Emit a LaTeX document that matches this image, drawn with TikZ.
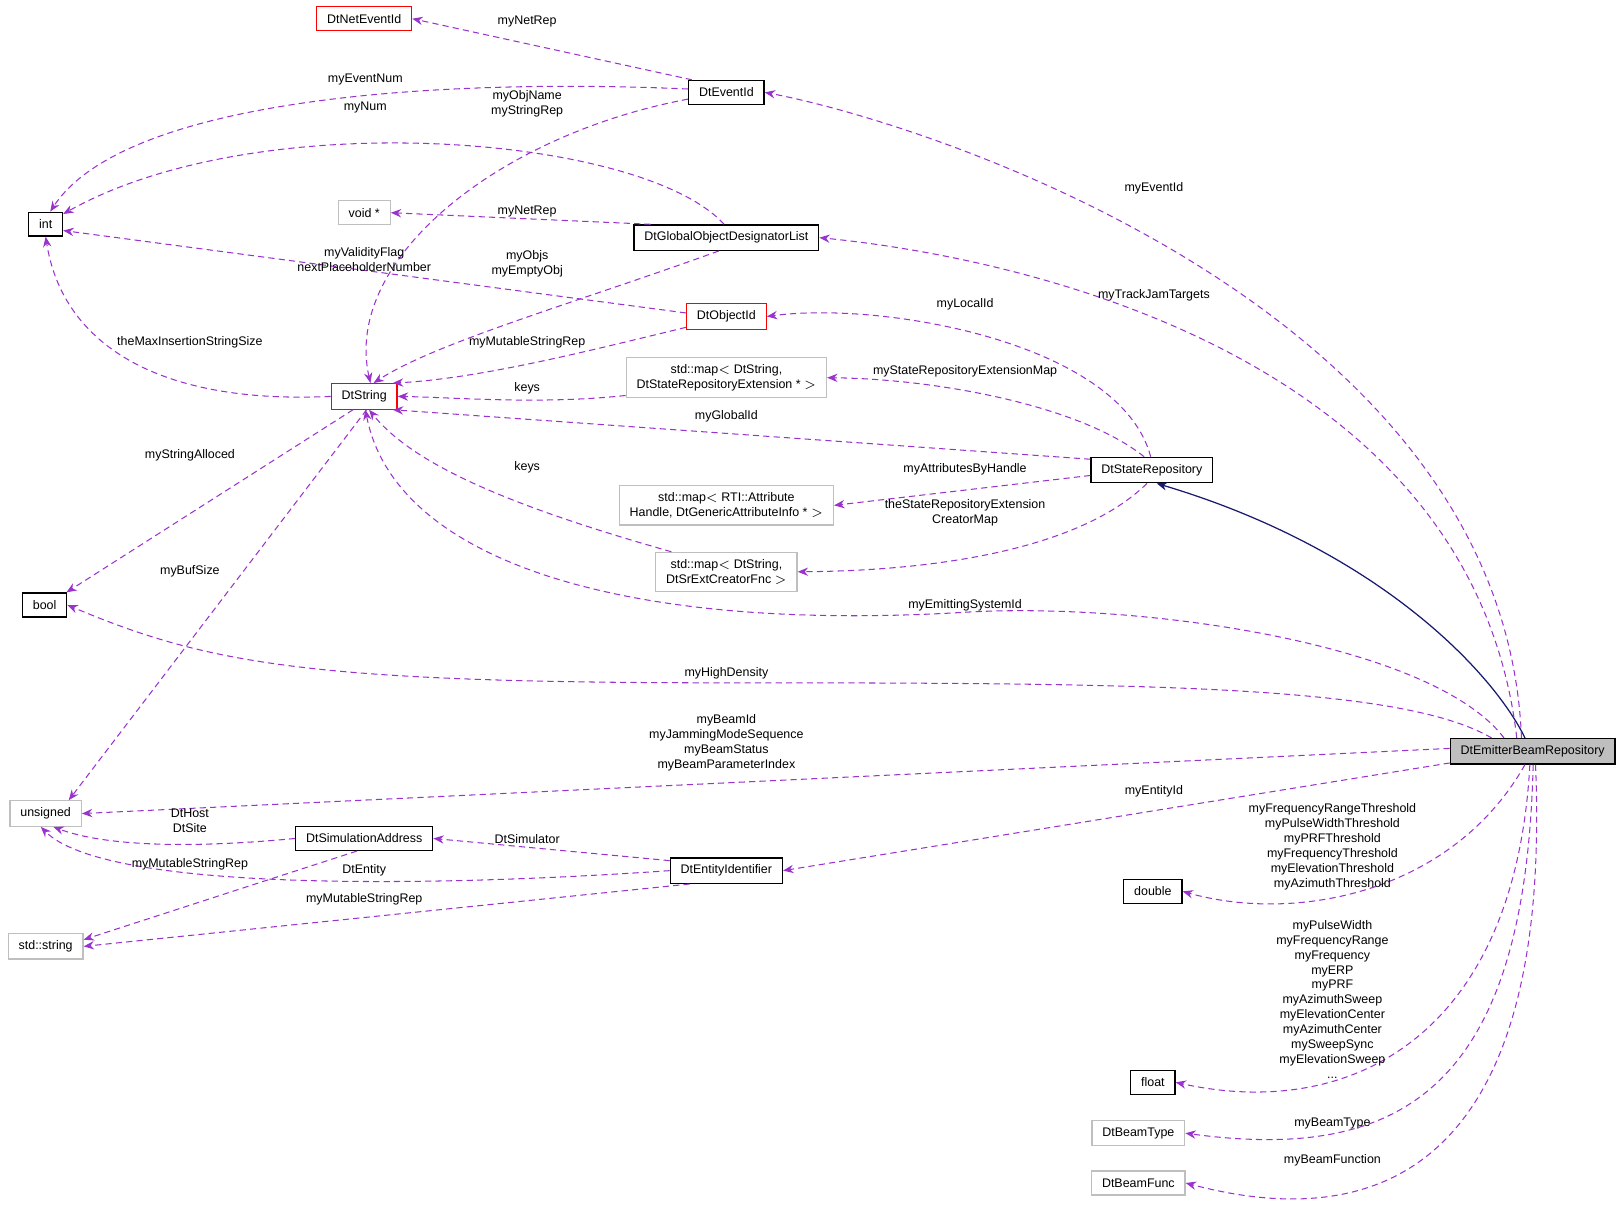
\documentclass[tikz,border=0pt]{standalone}
\usepackage{fontspec}
\setmainfont{Liberation Sans}
\usetikzlibrary{arrows.meta}
\definecolor{edgepurple}{HTML}{9A32CD}
\definecolor{basenavy}{HTML}{191970}
\definecolor{boxgray}{HTML}{BFBFBF}
\begin{document}
\begin{tikzpicture}[
    x=0.5pt, y=-0.5pt,
    font=\fontsize{6}{7.15}\selectfont,
    cls/.style={draw=black, line width=0.6pt, inner xsep=5pt, minimum height=11.5pt, align=center},
    clsred/.style={cls, draw=red},
    clsgray/.style={cls, draw=boxgray},
    clsmain/.style={cls, fill=boxgray!110!black!0, fill={rgb,255:red,191;green,191;blue,191}},
    uses/.style={draw=edgepurple, dash pattern=on 3pt off 2pt, line width=0.5pt, -{Stealth[length=5pt,width=4pt]}},
    inherits/.style={draw=basenavy, line width=0.6pt, -{Stealth[length=5pt,width=4pt]}},
    lbl/.style={align=center, inner sep=0pt}
]
   \useasboundingbox (0,0) rectangle (1565,1167);

   % Classes
   \node[clsred]  (netevent) at (351,18)  {DtNetEventId};
   \node[cls]     (eventid)  at (700,89)  {DtEventId};
   \node[cls]     (int)      at (44,216)  {int};
   \node[clsgray] (voidp)    at (351,205) {void *};
   \node[cls]     (godl)     at (700,229) {DtGlobalObjectDesignatorList};
   \node[clsred]  (objid)    at (700,305) {DtObjectId};
   \node[clsred]  (dtstring) at (351,382) {DtString};
   \node[clsgray] (mapext)   at (700,364) {std::map$<$ DtString,\\ DtStateRepositoryExtension * $>$};
   \node[cls]     (staterep) at (1110,453) {DtStateRepository};
   \node[clsgray] (mapattr)  at (700,487) {std::map$<$ RTI::Attribute\\Handle, DtGenericAttributeInfo * $>$};
   \node[clsgray] (mapcreat) at (700,551) {std::map$<$ DtString,\\ DtSrExtCreatorFnc $>$};
   \node[cls]     (bool)     at (43,583)  {bool};
   \node[clsmain] (emit)     at (1477,724) {DtEmitterBeamRepository};
   \node[clsgray] (unsigned) at (44,784)  {unsigned};
   \node[cls]     (simaddr)  at (351,808) {DtSimulationAddress};
   \node[cls]     (entid)    at (700,839) {DtEntityIdentifier};
   \node[clsgray] (stdstr)   at (44,912)  {std::string};
   \node[cls]     (double)   at (1111,859) {double};
   \node[cls]     (float)    at (1111,1043) {float};
   \node[clsgray] (beamtype) at (1097,1092) {DtBeamType};
   \node[clsgray] (beamfunc) at (1097,1140) {DtBeamFunc};

   % Inheritance
   \draw[inherits] (emit.120) .. controls (1440,650) and (1330,530) .. (staterep.290);

   % Members of DtEventId and DtGlobalObjectDesignatorList
   \draw[uses] (eventid.160) -- (netevent.east);
   \draw[uses] (eventid.175) .. controls (420,75) and (120,95) .. (int.70);
   \draw[uses] (godl.100) .. controls (620,130) and (250,100) .. (int.30);
   \draw[uses] (eventid.190) .. controls (480,130) and (330,250) .. (dtstring.65);
   \draw[uses] (godl.170) -- (voidp.east);
   \draw[uses] (godl.240) .. controls (560,290) and (420,330) .. (dtstring.55);
   \draw[uses] (objid.175) -- (int.340);
   \draw[uses] (objid.195) .. controls (560,340) and (460,365) .. (dtstring.25);
   \draw[uses] (mapext.190) .. controls (520,390) and (440,383) .. (dtstring.east);
   \draw[uses] (dtstring.west) .. controls (150,390) and (60,330) .. (int.south);

   % Members of DtStateRepository
   \draw[uses] (staterep.95) .. controls (1080,330) and (850,290) .. (objid.east);
   \draw[uses] (staterep.120) .. controls (1040,390) and (900,365) .. (mapext.east);
   \draw[uses] (staterep.170) -- (dtstring.335);
   \draw[uses] (staterep.185) -- (mapattr.east);
   \draw[uses] (staterep.250) .. controls (1040,530) and (900,550) .. (mapcreat.east);
   \draw[uses] (mapcreat.160) .. controls (500,490) and (400,450) .. (dtstring.290);

   % Members of DtString
   \draw[uses] (dtstring.230) -- (bool.30);
   \draw[uses] (dtstring.280) -- (unsigned.30);

   % Members of DtEmitterBeamRepository
   \draw[uses] (emit.130) .. controls (1450,300) and (900,120) .. (eventid.east);
   \draw[uses] (emit.140) .. controls (1420,350) and (1000,250) .. (godl.east);
   \draw[uses] (emit.155) .. controls (1380,620) and (1100,580) .. (930,590)
                .. controls (600,610) and (380,540) .. (dtstring.275);
   \draw[uses] (emit.162) .. controls (1350,660) and (1100,658) .. (700,658)
                .. controls (300,658) and (200,640) .. (bool.east);
   \draw[uses] (emit.178) -- (unsigned.east);
   \draw[uses] (emit.188) -- (entid.east);
   \draw[uses] (emit.240) .. controls (1400,860) and (1250,890) .. (double.east);
   \draw[uses] (emit.258) .. controls (1460,1000) and (1300,1080) .. (float.east);
   \draw[uses] (emit.272) .. controls (1470,1050) and (1350,1120) .. (beamtype.east);
   \draw[uses] (emit.282) .. controls (1495,1100) and (1350,1195) .. (beamfunc.east);

   % Members of DtEntityIdentifier and DtSimulationAddress
   \draw[uses] (entid.170) -- (simaddr.east);
   \draw[uses] (simaddr.west) .. controls (180,818) and (100,815) .. (unsigned.300);
   \draw[uses] (entid.west) .. controls (400,856) and (100,858) .. (unsigned.250);
   \draw[uses] (simaddr.240) -- (stdstr.10);
   \draw[uses] (entid.200) -- (stdstr.east);

   % Labels
   \node[lbl] (lnetrep)   at (508,21)  {myNetRep};
   \node[lbl] (levnum)    at (352,77)  {myEventNum};
   \node[lbl] (lnum)      at (352,104) {myNum};
   \node[lbl] (lobjname)  at (508,100) {myObjName\\myStringRep};
   \node[lbl] (lnetrep2)  at (508,204) {myNetRep};
   \node[lbl] (lobjs)     at (508,254) {myObjs\\myEmptyObj};
   \node[lbl] (lvalid)    at (351,250) {myValidityFlag\\nextPlaceholderNumber};
   \node[lbl] (lmutable)  at (508,330) {myMutableStringRep};
   \node[lbl] (lkeys)     at (508,374) {keys};
   \node[lbl] (lmaxins)   at (183,330) {theMaxInsertionStringSize};
   \node[lbl] (llocal)    at (930,293) {myLocalId};
   \node[lbl] (lextmap)   at (930,358) {myStateRepositoryExtensionMap};
   \node[lbl] (lglobal)   at (700,401) {myGlobalId};
   \node[lbl] (lattrs)    at (930,452) {myAttributesByHandle};
   \node[lbl] (lcreator)  at (930,494) {theStateRepositoryExtension\\CreatorMap};
   \node[lbl] (lkeys2)    at (508,450) {keys};
   \node[lbl] (lalloc)    at (183,439) {myStringAlloced};
   \node[lbl] (lbufsize)  at (183,551) {myBufSize};
   \node[lbl] (levid)     at (1112,181) {myEventId};
   \node[lbl] (ltrack)    at (1112,285) {myTrackJamTargets};
   \node[lbl] (lemitsys)  at (930,583) {myEmittingSystemId};
   \node[lbl] (lhigh)     at (700,649) {myHighDensity};
   \node[lbl] (lbeamid)   at (700,716) {myBeamId\\myJammingModeSequence\\myBeamStatus\\myBeamParameterIndex};
   \node[lbl] (lentity)   at (1112,763) {myEntityId};
   \node[lbl] (lsimul)    at (508,809) {DtSimulator};
   \node[lbl] (lhost)     at (183,791) {DtHost\\DtSite};
   \node[lbl] (ldtent)    at (351,839) {DtEntity};
   \node[lbl] (lmutable2) at (183,833) {myMutableStringRep};
   \node[lbl] (lmutable3) at (351,867) {myMutableStringRep};
   \node[lbl] (lthresh)   at (1284,816) {myFrequencyRangeThreshold\\myPulseWidthThreshold\\myPRFThreshold\\myFrequencyThreshold\\myElevationThreshold\\myAzimuthThreshold};
   \node[lbl] (lfloat)    at (1284,963) {myPulseWidth\\myFrequencyRange\\myFrequency\\myERP\\myPRF\\myAzimuthSweep\\myElevationCenter\\myAzimuthCenter\\mySweepSync\\myElevationSweep\\...};
   \node[lbl] (lbtype)    at (1284,1083) {myBeamType};
   \node[lbl] (lbfunc)    at (1284,1118) {myBeamFunction};
\end{tikzpicture}
\end{document}
